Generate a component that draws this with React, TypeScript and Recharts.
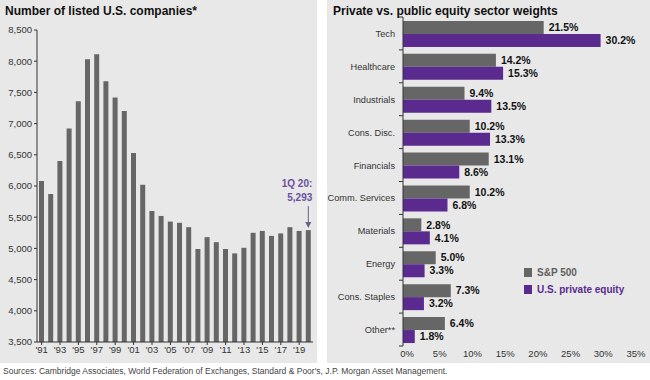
import React from "react";
import { BarChart, Bar, XAxis, YAxis, LabelList } from "recharts";

const years = ["'91","'92","'93","'94","'95","'96","'97","'98","'99","'00","'01","'02","'03","'04","'05","'06","'07","'08","'09","'10","'11","'12","'13","'14","'15","'16","'17","'18","'19","'20"];
const listedCompanies = [6080, 5870, 6400, 6920, 7360, 8030, 8110, 7680, 7420, 7200, 6530, 6020, 5600, 5520, 5430, 5410, 5340, 4990, 5180, 5100, 4990, 4920, 5010, 5250, 5280, 5200, 5240, 5340, 5280, 5293];
const countTicks = [3500, 4000, 4500, 5000, 5500, 6000, 6500, 7000, 7500, 8000, 8500];

const sectors = ["Tech", "Healthcare", "Industrials", "Cons. Disc.", "Financials", "Comm. Services", "Materials", "Energy", "Cons. Staples", "Other**"];
const sp500 = [21.5, 14.2, 9.4, 10.2, 13.1, 10.2, 2.8, 5.0, 7.3, 6.4];
const privateEquity = [30.2, 15.3, 13.5, 13.3, 8.6, 6.8, 4.1, 3.3, 3.2, 1.8];
const pctTicks = [0, 5, 10, 15, 20, 25, 30, 35];
const legendItems = ["S&P 500", "U.S. private equity"];

const FONT = "'Liberation Sans', Arial, sans-serif";
const GREY = "#666666";
const PURPLE = "#5a2a8f";
const PANEL = "#e8e8e8";

const leftData = years.map((y, i) => ({ year: y, count: listedCompanies[i] }));
const rightData = sectors.map((s, i) => ({ sector: s, sp: sp500[i], pe: privateEquity[i] }));

const renderAnnotation = (props: any) => {
  const { x, y, width, index } = props;
  if (index !== years.length - 1) return null;
  const cx = Number(x) + Number(width) / 2;
  const top = Number(y);
  return (
    <g>
      <text x={cx + 4} y={top - 43} textAnchor="end" fill="#6b4fa0" fontSize={10} fontWeight="bold" fontFamily={FONT}>1Q 20:</text>
      <text x={cx + 4} y={top - 29} textAnchor="end" fill="#6b4fa0" fontSize={10} fontWeight="bold" fontFamily={FONT}>5,293</text>
      <line x1={cx} y1={top - 24} x2={cx} y2={top - 7} stroke="#6a5f88" strokeWidth={1} />
      <polygon points={`${cx - 3},${top - 8} ${cx + 3},${top - 8} ${cx},${top - 2}`} fill="#6a5f88" />
    </g>
  );
};

const SectorTick = (props: any) => {
  const { x, y, payload, index } = props;
  const px = Number(x);
  const py = Number(y);
  const off = Number(payload && payload.offset) || 0;
  const axisX = px + 8;
  return (
    <g>
      {off > 0 && <line x1={axisX - 4} x2={axisX} y1={py - off} y2={py - off} stroke="#333" />}
      {off > 0 && index === sectors.length - 1 && <line x1={axisX - 4} x2={axisX} y1={py + off} y2={py + off} stroke="#333" />}
      <text x={px} y={py} dy={3.5} textAnchor="end" fontSize={9.2} fill="#333" fontFamily={FONT}>
        {payload.value}
      </text>
    </g>
  );
};

export default function App() {
  return (
    <div style={{ position: "absolute", left: 0, top: 0, width: 650, height: 380, background: "#ffffff", fontFamily: FONT }}>
      <div style={{ position: "absolute", left: 0, top: 0, width: 317, height: 363, background: PANEL }}>
        <div style={{ position: "absolute", left: 5, top: 4, fontSize: 12, fontWeight: "bold", color: "#111" }}>Number of listed U.S. companies*</div>
        <div style={{ position: "absolute", left: 0, top: 0 }}>
          <BarChart width={317} height={363} data={leftData} margin={{ top: 30, right: 4, bottom: 0, left: 0 }} barCategoryGap={0}>
            <XAxis dataKey="year" height={21} interval={1} tick={{ fontSize: 9.5, fill: "#333", fontFamily: FONT }} tickSize={3} tickMargin={1} axisLine={{ stroke: "#333" }} tickLine={{ stroke: "#333" }} />
            <YAxis type="number" domain={[3500, 8500]} ticks={countTicks} width={37} tickFormatter={(v: number) => v.toLocaleString("en-US")} tick={{ fontSize: 9.5, fill: "#333", fontFamily: FONT }} tickSize={3} tickMargin={2} axisLine={{ stroke: "#333" }} tickLine={{ stroke: "#333" }} allowDataOverflow />
            <Bar dataKey="count" fill={GREY} barSize={5} isAnimationActive={false}>
              <LabelList dataKey="count" content={renderAnnotation} />
            </Bar>
          </BarChart>
        </div>
      </div>
      <div style={{ position: "absolute", left: 327, top: 0, width: 323, height: 363, background: PANEL }}>
        <div style={{ position: "absolute", left: 6, top: 4, fontSize: 12, fontWeight: "bold", color: "#111" }}>Private vs. public equity sector weights</div>
        <div style={{ position: "absolute", left: 0, top: 0 }}>
          <BarChart width={323} height={363} data={rightData} layout="vertical" margin={{ top: 17, right: 18, bottom: 0, left: 0 }} barCategoryGap="12%" barGap={0}>
            <XAxis type="number" domain={[0, 35]} ticks={pctTicks} height={17} tickFormatter={(v: number) => `${v}%`} axisLine={false} tickLine={false} tickSize={0} tickMargin={4} tick={{ fontSize: 9.5, fill: "#333", fontFamily: FONT, dx: 4 }} />
            <YAxis type="category" dataKey="sector" width={76} axisLine={{ stroke: "#333" }} tickLine={false} tick={<SectorTick />} tickSize={6} tickMargin={2} />
            <Bar dataKey="sp" name={legendItems[0]} fill={GREY} isAnimationActive={false}>
              <LabelList dataKey="sp" position="right" offset={5} formatter={(v: any) => `${Number(v).toFixed(1)}%`} style={{ fontSize: 10.5, fontWeight: "bold", fill: "#111", fontFamily: FONT }} />
            </Bar>
            <Bar dataKey="pe" name={legendItems[1]} fill={PURPLE} isAnimationActive={false}>
              <LabelList dataKey="pe" position="right" offset={5} formatter={(v: any) => `${Number(v).toFixed(1)}%`} style={{ fontSize: 10.5, fontWeight: "bold", fill: "#111", fontFamily: FONT }} />
            </Bar>
          </BarChart>
        </div>
        <div style={{ position: "absolute", left: 197, top: 264, fontSize: 10, fontWeight: "bold" }}>
          <div style={{ display: "flex", alignItems: "center", height: 17 }}>
            <span style={{ width: 8, height: 9, background: GREY, display: "inline-block", marginRight: 5 }} />
            <span style={{ color: "#5f5f5f" }}>{legendItems[0]}</span>
          </div>
          <div style={{ display: "flex", alignItems: "center", height: 17 }}>
            <span style={{ width: 8, height: 9, background: PURPLE, display: "inline-block", marginRight: 5 }} />
            <span style={{ color: PURPLE }}>{legendItems[1]}</span>
          </div>
        </div>
      </div>
      <div style={{ position: "absolute", left: 3, top: 366, fontSize: 8.5, color: "#444" }}>Sources: Cambridge Associates, World Federation of Exchanges, Standard &amp; Poor's, J.P. Morgan Asset Management.</div>
    </div>
  );
}
